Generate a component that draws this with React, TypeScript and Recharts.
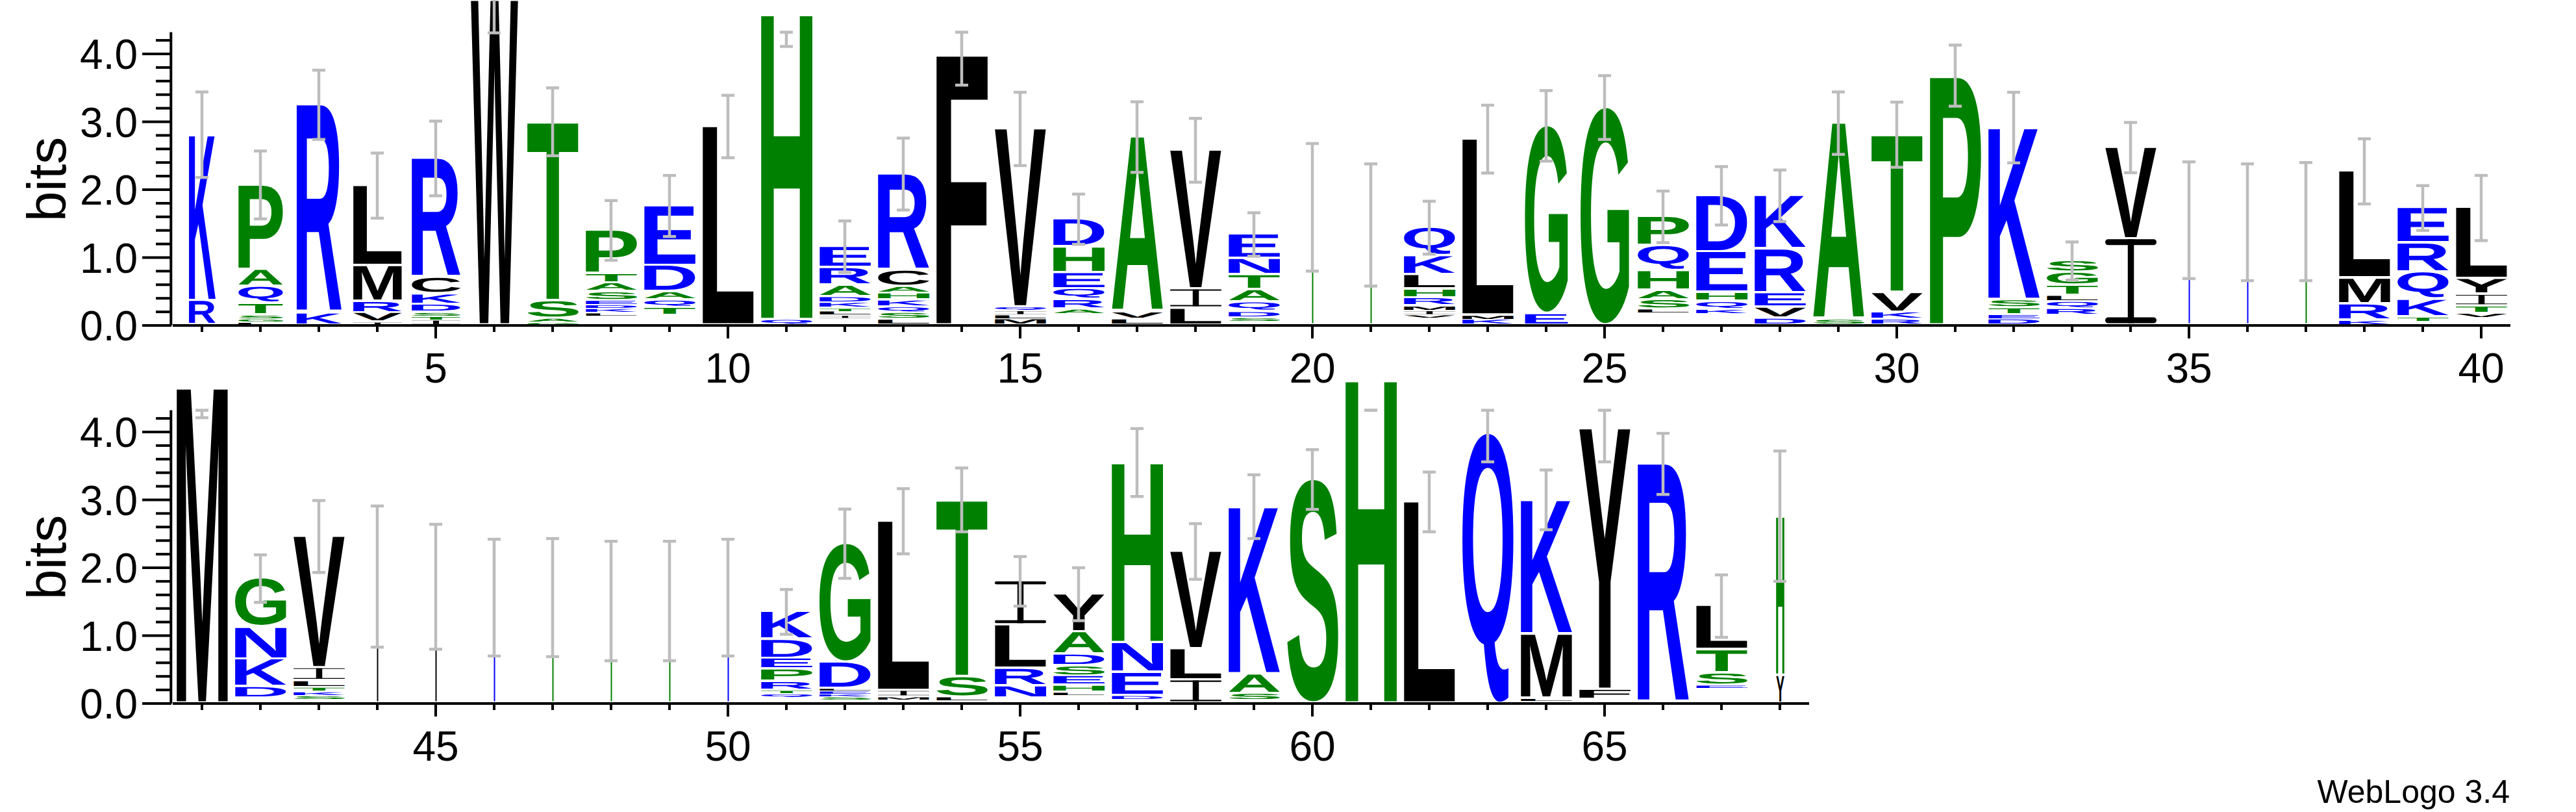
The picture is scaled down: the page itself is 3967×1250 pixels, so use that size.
import React from 'react';
import { ComposedChart, Bar, XAxis, YAxis, Scatter, ErrorBar, ReferenceLine } from 'recharts';

// ---------------- data ----------------
const topPositions = [1, 2, 3, 4, 5, 6, 7, 8, 9, 10, 11, 12, 13, 14, 15, 16, 17, 18, 19, 20, 21, 22, 23, 24, 25, 26, 27, 28, 29, 30, 31, 32, 33, 34, 35, 36, 37, 38, 39, 40];
const bottomPositions = [41, 42, 43, 44, 45, 46, 47, 48, 49, 50, 51, 52, 53, 54, 55, 56, 57, 58, 59, 60, 61, 62, 63, 64, 65, 66, 67, 68];

// letters of each stack, bottom -> top ("." = residues too small to be drawn)
const stackLetters = [
  'RK', 'LGSTQAP', 'KR', 'IVRML', 'ITSDKCR', 'W', 'GAST', '.LKDESATP', '.TQADE', 'L',
  'QH', '.ILTKDARE', 'LSQKHACR', 'F', 'MLIQV', '.ARQEHD', 'LVA', 'LIV', '.SDQATNE', 'G',
  'G', '.VIMRHLKQ', 'KML', 'EG', 'G', '.LSAHQP', '.KQHED', 'DVERK', 'SA', 'RKVT',
  'P', 'DETSK', '.RQLTGS', 'IV', 'E', 'K', 'G', 'KRML', '.TKQRE', '.VTIYL',
  'M', '.DKNG', '.SKTLIV', 'L', 'V', 'K', 'G', 'S', 'A', 'E',
  '.QTRPEDK', '.SKELDG', '.MIL', '.LST', '.NRLI', '.LHESDAY', '.DENH', 'ILV', '.SAK', 'S',
  'H', 'L', 'Q', '.LMK', '.FY', 'R', '.ESTL', 'YH',
];

// heights in bits, bottom -> top
const stackHeights = [
  [0.36, 2.45], [0.04, 0.05, 0.06, 0.17, 0.25, 0.25, 1.25], [0.18, 3.07], [0.04, 0.14, 0.17, 0.53, 1.18],
  [0.07, 0.055, 0.06, 0.12, 0.155, 0.24, 1.76], [4.95], [0.04, 0.06, 0.26, 2.64],
  [0.13, 0.05, 0.06, 0.055, 0.065, 0.13, 0.13, 0.14, 0.64], [0.14, 0.12, 0.11, 0.12, 0.39, 0.88], [2.93],
  [0.08, 4.52], [0.10, 0.04, 0.06, 0.05, 0.08, 0.09, 0.17, 0.26, 0.31], [0.08, 0.10, 0.09, 0.10, 0.10, 0.10, 0.24, 1.42],
  [4.0], [0.09, 0.06, 0.06, 0.055, 2.63], [0.16, 0.075, 0.14, 0.16, 0.24, 0.38, 0.41], [0.085, 0.11, 2.58],
  [0.25, 0.28, 2.05], [0.05, 0.06, 0.09, 0.14, 0.18, 0.22, 0.24, 0.36], [1.74],
  [1.48], [0.10, 0.05, 0.06, 0.07, 0.12, 0.13, 0.21, 0.28, 0.42], [0.08, 0.065, 2.60], [0.17, 2.77], [3.21],
  [0.17, 0.06, 0.14, 0.14, 0.29, 0.37, 0.43], [0.16, 0.07, 0.12, 0.13, 0.60, 0.83], [0.10, 0.16, 0.21, 0.65, 0.79],
  [0.08, 2.90], [0.08, 0.11, 0.29, 2.33],
  [3.68], [0.085, 0.07, 0.10, 0.12, 2.54], [0.14, 0.10, 0.11, 0.09, 0.15, 0.19, 0.17], [1.27, 1.35],
  [1.55], [1.52], [1.53], [0.07, 0.24, 0.38, 1.58], [0.05, 0.07, 0.26, 0.40, 0.43, 0.52], [0.10, 0.07, 0.11, 0.17, 0.23, 1.05],
  [4.67], [0.07, 0.17, 0.41, 0.47, 0.72], [0.05, 0.06, 0.06, 0.06, 0.10, 0.19, 1.94], [1.87], [1.72], [1.56], [1.56],
  [1.51], [1.51], [1.56],
  [0.085, 0.055, 0.05, 0.13, 0.18, 0.16, 0.28, 0.41], [0.04, 0.05, 0.04, 0.05, 0.034, 0.39, 1.75], [0.045, 0.05, 0.09, 2.50],
  [0.03, 0.06, 0.30, 2.61], [0.07, 0.18, 0.26, 0.64, 0.65], [0.11, 0.05, 0.10, 0.14, 0.15, 0.17, 0.33, 0.56],
  [0.05, 0.06, 0.34, 0.44, 2.66], [0.34, 0.46, 1.44], [0.03, 0.11, 0.29, 2.47], [3.30],
  [4.78], [2.97], [4.00], [0.03, 0.04, 0.95, 1.98], [0.05, 0.15, 3.85], [3.53], [0.215, 0.05, 0.18, 0.34, 0.65], [0.41, 2.35],
];

// error bar extent below / above the stack top (bits)
const errorLow = [
  0.63, 0.50, 0.51, 0.48, 0.55, 0.64, 0.50, 0.44, 0.45, 0.46,
  0.49, 0.38, 0.53, 0.46, 0.54, 0.37, 0.52, 0.47, 0.32, 0.94,
  0.90, 0.39, 0.50, 0.52, 0.47, 0.38, 0.43, 0.38, 0.46, 0.48,
  0.45, 0.52, 0.28, 0.37, 0.86, 0.86, 0.87, 0.48, 0.33, 0.48,
  0.46, 0.35, 0.53, 1.04, 0.92, 0.86, 0.87, 0.88, 0.88, 0.86,
  0.33, 0.51, 0.48, 0.47, 0.365, 0.39, 0.50, 0.41, 0.47, 0.44,
  0.46, 0.44, 0.44, 0.44, 0.49, 0.45, 0.46, 0.96,
];
const errorHigh = [
  0.63, 0.50, 0.51, 0.48, 0.55, 0.64, 0.50, 0.44, 0.45, 0.46,
  -0.28, 0.38, 0.53, 0.32, 0.54, 0.37, 0.52, 0.47, 0.32, 0.94,
  0.90, 0.39, 0.50, 0.52, 0.47, 0.38, 0.43, 0.38, 0.46, 0.48,
  0.45, 0.52, 0.28, 0.37, 0.86, 0.86, 0.87, 0.48, 0.33, 0.48,
  -0.35, 0.35, 0.53, 1.04, 0.92, 0.86, 0.87, 0.88, 0.88, 0.86,
  0.33, 0.51, 0.48, 0.47, 0.365, 0.39, 0.50, 0.41, 0.47, 0.44,
  -0.46, 0.44, 0.32, 0.44, 0.27, 0.45, 0.46, 0.96,
];

// relative stack width (fraction of sequences present)
const columnWidth = [
  0.52, 0.87, 0.88, 0.95, 0.95, 0.92, 1, 1, 1, 1,
  1, 1, 1, 1, 1, 1, 1, 1, 1, 0.025,
  0.025, 1, 1, 0.84, 0.95, 1, 1, 1, 1, 1,
  1, 1, 1, 1, 0.025, 0.025, 0.025, 1, 1, 1,
  1, 1, 1, 0.025, 0.025, 0.025, 0.025, 0.025, 0.025, 0.025,
  1, 1, 1, 1, 1, 1, 1, 1, 1, 1,
  1, 1, 1, 1, 1, 1, 1, 0.16,
];

const labelledPositions = [5, 10, 15, 20, 25, 30, 35, 40, 45, 50, 55, 60, 65];
const yTicks = [0, 0.2, 0.4, 0.6, 0.8, 1, 1.2, 1.4, 1.6, 1.8, 2, 2.2, 2.4, 2.6, 2.8, 3, 3.2, 3.4, 3.6, 3.8, 4, 4.2];
const yAxisTop = 4.32;

// ---------------- style ----------------
const GREEN = '#008000';
const BLUE = '#0000ff';
const BLACK = '#000000';
const letterColor: Record<string, string> = {
  A: GREEN, G: GREEN, H: GREEN, P: GREEN, S: GREEN, T: GREEN,
  D: BLUE, E: BLUE, K: BLUE, N: BLUE, Q: BLUE, R: BLUE,
  C: BLACK, F: BLACK, I: BLACK, L: BLACK, M: BLACK, V: BLACK, W: BLACK, Y: BLACK,
};
const FONT = '"Liberation Sans", Arial, Helvetica, sans-serif';
const PX_PER_BIT = 104.5;
const AXIS_H = 119;
const Y_AXIS_W = 266;

const maxRank = Math.max(...stackLetters.map((s) => s.length));
const ranks = Array.from({ length: maxRank }, (_, k) => k);

function buildRows(positions: number[]) {
  return positions.map((p) => {
    const i = p - 1;
    const letters = stackLetters[i];
    const hs = stackHeights[i];
    const row: any = {
      pos: p,
      total: hs.reduce((a, b) => a + b, 0),
      err: [errorLow[i], errorHigh[i]],
      w: columnWidth[i],
    };
    letters.split('').forEach((ch, k) => {
      row['s' + k] = hs[k];
      row['l' + k] = ch;
    });
    return row;
  });
}

const metricCache = new Map<string, { l: number; r: number; a: number; d: number }>();
function glyphMetrics(ch: string) {
  const hit = metricCache.get(ch);
  if (hit) return hit;
  const ctx = document.createElement('canvas').getContext('2d') as CanvasRenderingContext2D;
  ctx.font = `bold 200px ${FONT}`;
  const t = ctx.measureText(ch);
  const m = {
    l: t.actualBoundingBoxLeft,
    r: t.actualBoundingBoxRight,
    a: t.actualBoundingBoxAscent,
    d: t.actualBoundingBoxDescent,
  };
  metricCache.set(ch, m);
  return m;
}

function Glyph({ ch, x, y, w, h }: { ch: string; x: number; y: number; w: number; h: number }) {
  const color = letterColor[ch] || BLACK;
  if (w < 3) {
    // a letter squeezed to a hairline: drawn as a solid stroke of its colour
    return <rect x={x} y={y} width={w} height={h} fill={color} />;
  }
  if (ch === 'I') {
    const bar = h * 0.07;
    const sw = w * 0.12;
    return (
      <g fill={color}>
        <rect x={x} y={y} width={w} height={bar} rx={Math.min(bar / 2, w / 2)} />
        <rect x={x} y={y + h - bar} width={w} height={bar} rx={Math.min(bar / 2, w / 2)} />
        <rect x={x + w / 2 - sw / 2} y={y} width={sw} height={h} />
      </g>
    );
  }
  const m = glyphMetrics(ch);
  const bw = m.l + m.r;
  const bh = m.a + m.d;
  return (
    <text
      x={0}
      y={0}
      fontSize={200}
      fontWeight="bold"
      fontFamily={FONT}
      fill={color}
      textRendering="geometricPrecision"
      transform={`translate(${x},${y}) scale(${w / bw},${h / bh}) translate(${m.l},${m.a})`}
    >
      {ch}
    </text>
  );
}

const makeLetterShape = (k: number) => (props: any) => {
  const { x, y, width, height, payload } = props;
  const ch = payload ? payload['l' + k] : undefined;
  if (!ch || ch === '.' || !height || height <= 0 || !width) return <g />;
  const f = payload.w ?? 1;
  const gw = width * f;
  const gx = x + (width - gw) / 2;
  const gap = Math.min(3.5, height * 0.3);
  const gh = height - gap;
  return <Glyph ch={ch} x={gx} y={y} w={gw} h={gh} />;
};
const letterShapes = ranks.map((k) => makeLetterShape(k));

const renderYTick = (props: any) => {
  const { x, y, payload } = props;
  const v = Number(payload.value);
  const major = Math.abs(v - Math.round(v)) < 1e-6;
  return (
    <g>
      <line x1={x - (major ? 47 : 26)} x2={x - 2} y1={y} y2={y} stroke="#000" strokeWidth={4} />
      {major && (
        <text x={x - 54} y={y + 23} textAnchor="end" fontSize={64} fontFamily={FONT} fill="#000">
          {v.toFixed(1)}
        </text>
      )}
      {v === 0 && (
        <text
          transform={`translate(${x - 165},${y - 225}) rotate(-90)`}
          textAnchor="middle"
          fontSize={84}
          fontFamily={FONT}
          fill="#000"
        >
          bits
        </text>
      )}
    </g>
  );
};

const renderXTick = (props: any) => {
  const { x, y, payload } = props;
  const v = Number(payload.value);
  const labelled = labelledPositions.includes(v);
  return (
    <g>
      <line x1={x} x2={x} y1={y + 1} y2={y + (labelled ? 20 : 10)} stroke="#000" strokeWidth={4} />
      {labelled && (
        <text x={x} y={y + 88} textAnchor="middle" fontSize={64} fontFamily={FONT} fill="#000">
          {v}
        </text>
      )}
    </g>
  );
};

const emptyShape = () => <g />;

function LogoRow({ positions, plotHeight, marginRight, top }: { positions: number[]; plotHeight: number; marginRight: number; top: number }) {
  const data = buildRows(positions);
  const yMax = plotHeight / PX_PER_BIT;
  const first = positions[0];
  const last = positions[positions.length - 1];
  const h = plotHeight + AXIS_H;
  return (
    <div style={{ position: 'absolute', left: 0, top, width: 3967, height: h }}>
      <ComposedChart
        width={3967}
        height={h}
        data={data}
        margin={{ top: 0, right: marginRight, bottom: 0, left: 0 }}
        barSize={79}
        barGap={0}
      >
        <XAxis
          dataKey="pos"
          type="category"
          interval={0}
          height={AXIS_H}
          axisLine={{ stroke: '#000', strokeWidth: 4 }}
          tickLine={false}
          tickSize={0}
          tickMargin={0}
          tick={renderXTick}
        />
        <XAxis xAxisId="n" dataKey="pos" type="number" domain={[first - 0.5, last + 0.5]} allowDataOverflow hide />
        <YAxis
          type="number"
          domain={[0, yMax]}
          allowDataOverflow
          ticks={yTicks}
          interval={0}
          width={Y_AXIS_W}
          axisLine={false}
          tickLine={false}
          tickSize={0}
          tickMargin={0}
          tick={renderYTick}
        />
        {ranks.map((k) => (
          <Bar key={k} dataKey={'s' + k} stackId="logo" isAnimationActive={false} shape={letterShapes[k]} />
        ))}
        <ReferenceLine
          xAxisId="n"
          segment={[{ x: first - 0.53, y: 0 }, { x: first - 0.53, y: yAxisTop }]}
          stroke="#000"
          strokeWidth={4}
          ifOverflow="visible"
        />
        <Scatter xAxisId="n" dataKey="total" isAnimationActive={false} shape={emptyShape}>
          <ErrorBar dataKey="err" direction="y" width={10} stroke="#bdbdbd" strokeWidth={4.5} />
        </Scatter>
      </ComposedChart>
    </div>
  );
}

export default function App() {
  return (
    <div style={{ position: 'absolute', left: 0, top: 0, width: 3967, height: 1250, background: '#fff', overflow: 'hidden' }}>
      <LogoRow positions={topPositions} plotHeight={501} marginRight={101} top={0} />
      <LogoRow positions={bottomPositions} plotHeight={500} marginRight={1181} top={583} />
      <svg width={3967} height={1250} style={{ position: 'absolute', left: 0, top: 0, pointerEvents: 'none' }}>
        <text x={3865} y={1236} textAnchor="end" fontSize={50} fontFamily={FONT} fill="#000">
          WebLogo 3.4
        </text>
      </svg>
    </div>
  );
}
